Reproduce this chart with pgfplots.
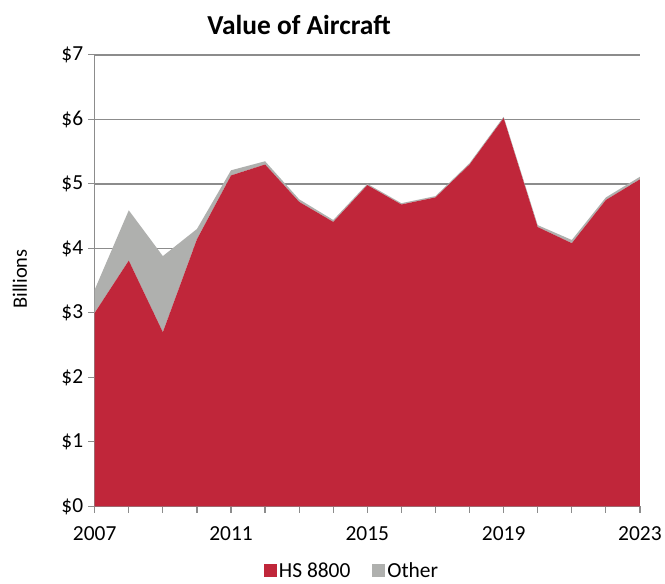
\documentclass[border=0pt]{standalone}
\usepackage{fontspec}
\setmainfont{Carlito}
\usepackage{pgfplots}
\pgfplotsset{compat=1.18}
\definecolor{hsred}{HTML}{C0263A}
\definecolor{othgray}{HTML}{AFB0AE}
\definecolor{axgray}{HTML}{8C8C8C}
\begin{document}
\begin{tikzpicture}
\path (0pt,0pt) rectangle (665pt,580pt);
\begin{axis}[
  at={(95pt,72pt)}, anchor=south west,
  scale only axis, width=547pt, height=453pt,
  xmin=2007, xmax=2023, ymin=0, ymax=7,
  stack plots=y, clip=false,
  axis x line*=bottom, axis y line*=left,
  axis line style={draw=axgray, line width=1.2pt, -},
  xtick={2007,2008,...,2023},
  xticklabels={2007,,,,2011,,,,2015,,,,2019,,,,2023},
  ytick={0,1,...,7},
  yticklabels={\$0,\$1,\$2,\$3,\$4,\$5,\$6,\$7},
  major tick length=0pt,
  ymajorgrids,
  grid style={draw=axgray, line width=1.6pt},
  ticklabel style={font=\fontsize{21.5}{24}\selectfont},
  /pgf/number format/assume math mode=true,
  x tick label style={yshift=-17pt},
  y tick label style={xshift=-8pt},
  legend columns=2,
  legend style={at={(rel axis cs:0.472,-0.143)}, anchor=center, draw=none, fill=none,
    font=\fontsize{21.5}{24}\selectfont, /tikz/every even column/.append style={column sep=20pt}},
  legend image code/.code={\fill[#1] (0pt,-6.5pt) rectangle (13pt,6.5pt);},
]
\addplot[draw=none, fill=hsred] coordinates {
(2007,3.00) (2008,3.81) (2009,2.70) (2010,4.14) (2011,5.13) (2012,5.30)
(2013,4.72) (2014,4.41) (2015,4.98) (2016,4.68) (2017,4.79) (2018,5.30)
(2019,6.02) (2020,4.33) (2021,4.08) (2022,4.75) (2023,5.07)} \closedcycle;
\addlegendentry{HS 8800}
\addplot[draw=none, fill=othgray] coordinates {
(2007,0.36) (2008,0.78) (2009,1.18) (2010,0.16) (2011,0.08) (2012,0.05)
(2013,0.04) (2014,0.03) (2015,0.02) (2016,0.02) (2017,0.02) (2018,0.02)
(2019,0.02) (2020,0.03) (2021,0.05) (2022,0.04) (2023,0.04)} \closedcycle;
\addlegendentry{Other}
\pgfplotsinvokeforeach{2007,2008,...,2023}{
  \draw[axgray, line width=1.2pt] (axis cs:#1,0) -- ++(0pt,-7pt);
}
\pgfplotsinvokeforeach{0,1,...,7}{
  \draw[axgray, line width=1.2pt] (axis cs:2007,#1) -- ++(-7pt,0pt);
}
\end{axis}
\node[font=\bfseries\fontsize{27.5}{30}\selectfont] at (300pt,555pt) {Value of Aircraft};
\node[rotate=90, font=\fontsize{20.5}{24}\selectfont] at (20pt,300pt) {Billions};
\end{tikzpicture}
\end{document}
